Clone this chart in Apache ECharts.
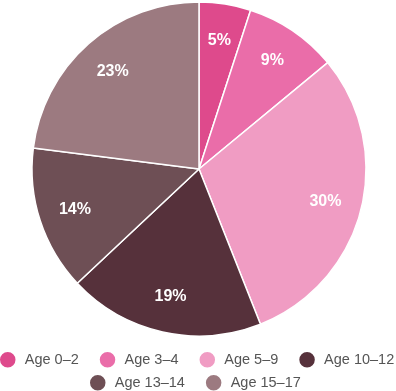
<!DOCTYPE html>
<html>
<head>
<meta charset="utf-8">
<script src="https://cdn.jsdelivr.net/npm/echarts@6/dist/echarts.min.js"></script>
<style>html,body{margin:0;padding:0;background:#fff}#c{width:396px;height:391px}</style>
</head>
<body>
<div id="c"></div>
<script>
const categories = ['Age 0–2', 'Age 3–4', 'Age 5–9', 'Age 10–12', 'Age 13–14', 'Age 15–17'];
const values = [5, 9, 30, 19, 14, 23];
const colors = ['#DE4A8C', '#EA6DA9', '#F09CC3', '#56313B', '#6E4F55', '#9C7A80'];

const data = categories.map((n, i) => ({ name: n, value: values[i], itemStyle: { color: colors[i] } }));
const labelData = categories.map((n, i) => ({ name: n, value: values[i] }));

const chart = echarts.init(document.getElementById('c'), null, { renderer: 'canvas' });
const legendCommon = {
  padding: 0, icon: 'circle', itemWidth: 24, itemHeight: 17.5, itemGap: 19, width: 420,
  textStyle: { color: '#555', fontSize: 14.5, fontFamily: 'Liberation Sans, Arial, sans-serif' },
  selectedMode: false
};
chart.setOption({
  animation: false,
  legend: [
    Object.assign({}, legendCommon, { left: -2, top: 350, data: categories.slice(0, 4) }),
    Object.assign({}, legendCommon, { left: 88, top: 373, data: categories.slice(4) })
  ],
  series: [
    {
      type: 'pie', center: [199, 169], radius: [0, 167], startAngle: 90, clockwise: true,
      label: { show: false }, labelLine: { show: false },
      itemStyle: { borderColor: '#fff', borderWidth: 1.5 },
      emphasis: { disabled: true },
      data: data
    },
    {
      type: 'pie', center: [199, 169], radius: [88, 167], startAngle: 90, clockwise: true, silent: true,
      itemStyle: { color: 'rgba(0,0,0,0)', borderWidth: 0 },
      label: { show: true, position: 'inside', formatter: '{c}%', color: '#fff', fontWeight: 'bold', fontSize: 16,
               fontFamily: 'Liberation Sans, Arial, sans-serif' },
      labelLine: { show: false },
      emphasis: { disabled: true },
      data: labelData
    }
  ]
});
</script>
</body>
</html>
